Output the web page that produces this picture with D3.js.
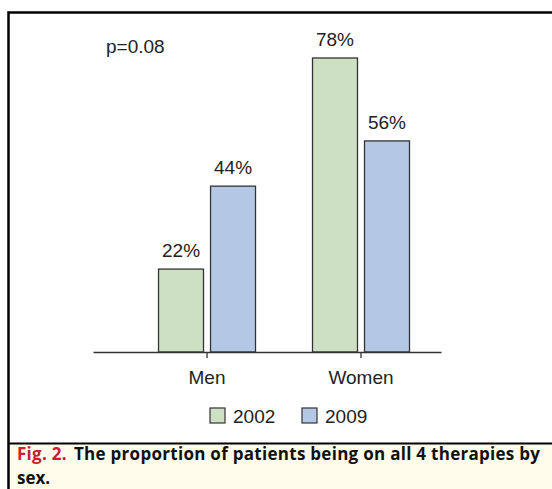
<!DOCTYPE html>
<html>
<head>
<meta charset="utf-8">
<script src="https://cdn.jsdelivr.net/npm/d3@7"></script>
<style>
  body { margin: 0; background: #fff; }
  svg { display: block; }
</style>
</head>
<body>
<div id="chart"></div>
<script>
// data
var groups = ["Men", "Women"];
var series = ["2002", "2009"];
var values2002 = [22, 78];
var values2009 = [44, 56];
var colors = ["#cde0c4", "#b4c8e6"];
var pText = "p=0.08";

var W = 552, H = 489;
var FONT = "'Liberation Sans', Arial, sans-serif";
var svg = d3.select("#chart").append("svg").attr("width", W).attr("height", H);

// caption background + frame
svg.append("rect").attr("x", 8).attr("y", 444).attr("width", W - 8).attr("height", H - 444)
    .attr("fill", "#fffcec");
svg.append("path").attr("d", "M8.5," + H + "V12.5H" + W)
    .attr("fill", "none").attr("stroke", "#000").attr("stroke-width", 2.5);
svg.append("line").attr("x1", 8).attr("x2", W).attr("y1", 443.5).attr("y2", 443.5)
    .attr("stroke", "#000").attr("stroke-width", 2);

var x0 = d3.scaleBand().domain(groups).range([93, 441])
    .paddingInner(0).paddingOuter(0.13).align(0.925);
var x1 = d3.scaleBand().domain(series).range([0, x0.bandwidth()])
    .paddingInner(0.135).paddingOuter(0.548);
var y = d3.scaleLinear().domain([0, 78]).range([352, 58]);

var rows = groups.map(function (g, i) {
    return { group: g, vals: [values2002[i], values2009[i]] };
});

var g = svg.append("g");
var grp = g.selectAll(".grp").data(rows).enter().append("g")
    .attr("class", "grp")
    .attr("transform", function (d) { return "translate(" + x0(d.group) + ",0)"; });

grp.selectAll("rect").data(function (d) { return d.vals.map(function (v, j) { return { s: series[j], v: v, j: j }; }); })
    .enter().append("rect")
    .attr("x", function (d) { return x1(d.s); })
    .attr("y", function (d) { return y(d.v); })
    .attr("width", x1.bandwidth())
    .attr("height", function (d) { return y(0) - y(d.v); })
    .attr("fill", function (d) { return colors[d.j]; })
    .attr("stroke", "#333").attr("stroke-width", 1.3);

grp.selectAll(".lbl").data(function (d) { return d.vals.map(function (v, j) { return { s: series[j], v: v }; }); })
    .enter().append("text").attr("class", "lbl")
    .attr("x", function (d) { return x1(d.s) + x1.bandwidth() / 2; })
    .attr("y", function (d) { return y(d.v) - 12; })
    .attr("text-anchor", "middle")
    .style("font-family", FONT)
    .style("font-size", "19px").attr("fill", "#222")
    .text(function (d) { return d.v + "%"; });

// x axis
var ax = svg.append("g").attr("transform", "translate(0," + y(0) + ")")
    .call(d3.axisBottom(x0).tickSize(6).tickSizeOuter(0).tickPadding(13));
ax.select(".domain").attr("stroke", "#333").attr("stroke-width", 1.3);
ax.selectAll(".tick line").attr("stroke", "#333").attr("stroke-width", 1.3);
ax.selectAll(".tick text")
    .style("font-family", FONT)
    .style("font-size", "19px").attr("fill", "#222");

svg.append("text").attr("x", 106).attr("y", 53)
    .style("font-family", FONT)
    .style("font-size", "19px").attr("fill", "#222").text(pText);

// legend
var legX = [210, 302];
var leg = svg.selectAll(".leg").data(series).enter().append("g")
    .attr("class", "leg")
    .attr("transform", function (d, i) { return "translate(" + legX[i] + ",408)"; });
leg.append("rect").attr("width", 15).attr("height", 15)
    .attr("fill", function (d, i) { return colors[i]; })
    .attr("stroke", "#333").attr("stroke-width", 1.2);
leg.append("text").attr("x", 23).attr("y", 14.5)
    .style("font-family", FONT)
    .style("font-size", "19px").attr("fill", "#222")
    .text(function (d) { return d; });

// caption (first line justified to the column width)
var CAPFONT = "'Open Sans', 'DejaVu Sans', sans-serif";
var cap = svg.append("text").attr("x", 17).attr("y", 460)
    .attr("textLength", 523).attr("lengthAdjust", "spacing")
    .style("font-family", CAPFONT)
    .style("font-size", "17px").style("font-weight", "bold");
cap.append("tspan").attr("fill", "#c8202e").text("Fig. 2.");
cap.append("tspan").attr("fill", "#111").attr("dx", 7).text("The proportion of patients being on all 4 therapies by");
svg.append("text").attr("x", 17).attr("y", 484)
    .style("font-family", CAPFONT)
    .style("font-size", "17px").style("font-weight", "bold").attr("fill", "#111")
    .text("sex.");
</script>
</body>
</html>
